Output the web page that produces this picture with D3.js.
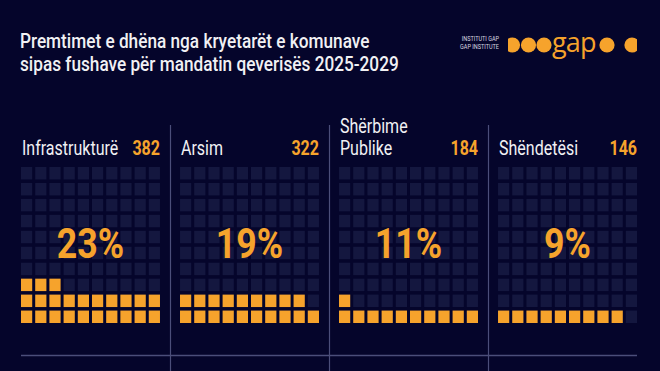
<!doctype html>
<html lang="sq">
<head>
<meta charset="utf-8" />
<title>Premtimet sipas fushave</title>
<script src="https://cdn.jsdelivr.net/npm/d3@7"></script>
<style>
  html, body { margin: 0; padding: 0; background: #05052b; }
  svg { display: block; }
</style>
</head>
<body>
<div id="chart"></div>
<script>
// te dhenat
var kategorite = ["Infrastrukturë", "Arsim", "Shërbime Publike", "Shëndetësi"];
var premtimet = [382, 322, 184, 146];
var perqindjet = [23, 19, 11, 9];
var rreshtat = d3.range(10);
var kolonat = d3.range(10);

var W = 660, H = 371;
var portokalli = "#f6a32c", bosh = "#14173f", vija = "#4b4e7a", bardhe = "#f1f1f4";
var FONT = "Roboto, 'Noto Sans', sans-serif";
var SX = 0.8; // ngushtim horizontal per shkronjat

var svg = d3.select("#chart").append("svg").attr("width", W).attr("height", H);
svg.append("rect").attr("width", W).attr("height", H).attr("fill", "#05052b");

function tekst(g, x, y, s, size, color, weight, anchor, sx) {
  return g.append("text")
    .attr("transform", "translate(" + x + "," + y + ") scale(" + (sx || SX) + ",1)")
    .attr("font-family", FONT).attr("font-size", size)
    .attr("font-weight", weight || 400).attr("fill", color)
    .attr("text-anchor", anchor || "start").text(s);
}

// titulli
tekst(svg, 20, 48, "Premtimet e dhëna nga kryetarët e komunave", 21, bardhe, 500, "start", 0.82);
tekst(svg, 20, 71, "sipas fushave për mandatin qeverisës 2025-2029", 21, bardhe, 500, "start", 0.82);

// logo
tekst(svg, 499, 41, "INSTITUTI GAP", 6.5, "#d8d8e0", 400, "end", 0.85);
tekst(svg, 499, 49, "GAP INSTITUTE", 6.5, "#d8d8e0", 400, "end", 0.85);
var logo = svg.append("g").attr("fill", portokalli);
var r = 7.6, cy = 45;
svg.append("clipPath").attr("id", "prerjeD").append("rect").attr("x", 508).attr("y", 30).attr("width", 20).attr("height", 30);
svg.append("clipPath").attr("id", "prerjeC").append("rect").attr("x", 615).attr("y", 30).attr("width", 22).attr("height", 30);
logo.append("circle").attr("cx", 512.5).attr("cy", cy).attr("r", r).attr("clip-path", "url(#prerjeD)");
logo.append("circle").attr("cx", 528.5).attr("cy", cy).attr("r", r);
logo.append("circle").attr("cx", 544).attr("cy", cy).attr("r", r);
logo.append("text").attr("x", 552).attr("y", cy + 6.5).attr("font-family", "'Open Sans', sans-serif")
  .attr("font-weight", 400).attr("font-size", 27).attr("letter-spacing", -0.8).text("gap");
logo.append("circle").attr("cx", 607).attr("cy", cy).attr("r", r);
logo.append("circle").attr("cx", 632).attr("cy", cy).attr("r", r).attr("clip-path", "url(#prerjeC)");

// shkallet
var xPanel = d3.scaleBand().domain(kategorite).range([21, 637]).paddingInner(0.126);
var xCel = d3.scaleBand().domain(kolonat).range([0, xPanel.bandwidth()]).paddingInner(0.21);
var yCel = d3.scaleBand().domain(rreshtat).range([323, 167]).paddingInner(0.22); // rreshti 0 poshte

// vijat ndarese
var gap = xPanel.step() - xPanel.bandwidth();
kategorite.slice(1).forEach(function (k) {
  var x = Math.round(xPanel(k) - gap / 2) + 0.5;
  svg.append("line").attr("x1", x).attr("x2", x).attr("y1", 125).attr("y2", H)
    .attr("stroke", vija).attr("stroke-width", 1.2);
});
svg.append("line").attr("x1", 21).attr("x2", 637).attr("y1", 355.5).attr("y2", 355.5)
  .attr("stroke", vija).attr("stroke-width", 1.5);

kategorite.forEach(function (k, i) {
  var g = svg.append("g").attr("transform", "translate(" + xPanel(k) + ",0)");
  var w = xPanel.bandwidth();

  var fjalet = k.split(" ");
  if (fjalet.length > 1) {
    tekst(g, 1, 133, fjalet[0], 20, bardhe, 400);
    tekst(g, 1, 155, fjalet[1], 20, bardhe, 400);
  } else {
    tekst(g, 1, 155, k, 20, bardhe, 400);
  }
  tekst(g, w, 155, premtimet[i], 20, portokalli, 700, "end");

  var qelizat = d3.range(100).map(function (j) {
    return { rr: Math.floor(j / 10), kol: j % 10, plot: j < perqindjet[i] };
  });
  g.selectAll("rect.cel").data(qelizat).join("rect").attr("class", "cel")
    .attr("x", function (d) { return xCel(d.kol); })
    .attr("y", function (d) { return yCel(d.rr); })
    .attr("width", xCel.bandwidth()).attr("height", yCel.bandwidth())
    .attr("fill", function (d) { return d.plot ? portokalli : bosh; });

  tekst(g, w / 2, 258, perqindjet[i] + "%", 42, portokalli, 700, "middle", 0.85);
});
</script>
</body>
</html>
